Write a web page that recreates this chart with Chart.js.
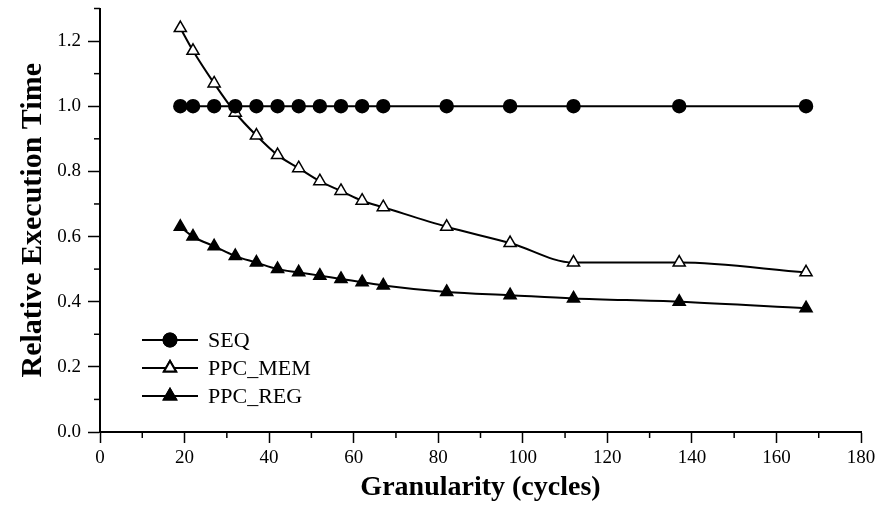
<!DOCTYPE html>
<html>
<head>
<meta charset="utf-8">
<script src="https://cdn.jsdelivr.net/npm/chart.js@4"></script>
<style>
  body { margin: 0; background: #fff; }
</style>
</head>
<body>
<canvas id="chart" width="879" height="509"></canvas>
<script>
const granularity = [19, 22, 27, 32, 37, 42, 47, 52, 57, 62, 67, 82, 97, 112, 137, 167];
const seq    = [1.00, 1.00, 1.00, 1.00, 1.00, 1.00, 1.00, 1.00, 1.00, 1.00, 1.00, 1.00, 1.00, 1.00, 1.00, 1.00];
const ppcMem = [1.24, 1.17, 1.07, 0.98, 0.91, 0.85, 0.81, 0.77, 0.74, 0.71, 0.69, 0.63, 0.58, 0.52, 0.52, 0.49];
const ppcReg = [0.63, 0.60, 0.57, 0.54, 0.52, 0.50, 0.49, 0.48, 0.47, 0.46, 0.45, 0.43, 0.42, 0.41, 0.40, 0.38];

const xTicks = [0, 20, 40, 60, 80, 100, 120, 140, 160, 180];
const yTicks = [0.0, 0.2, 0.4, 0.6, 0.8, 1.0, 1.2];

const serif = "'Liberation Serif', 'Times New Roman', serif";

const toPoints = vals => vals.map((v, i) => ({ x: granularity[i], y: v }));

const series = [
    { label: 'SEQ', data: seq, style: 'circle', fill: '#000', radius: 6.5 },
    { label: 'PPC_MEM', data: ppcMem, style: 'triangle', fill: '#fff', radius: 7 },
    { label: 'PPC_REG', data: ppcReg, style: 'triangle', fill: '#000', radius: 7 }
];

// small ticks between the labelled ones + legend drawn inside the plot
const extras = {
    id: 'extras',
    afterDraw(chart) {
        const c = chart.ctx;
        const xs = chart.scales.x, ys = chart.scales.y;
        c.save();
        c.strokeStyle = '#000';
        c.lineWidth = 1.5;
        for (let i = 0; i < xTicks.length - 1; i++) {
            const px = xs.getPixelForValue((xTicks[i] + xTicks[i + 1]) / 2);
            c.beginPath(); c.moveTo(px, ys.bottom); c.lineTo(px, ys.bottom + 6); c.stroke();
        }
        const yMinor = yTicks.map(v => v + 0.1);
        yMinor.forEach(v => {
            const py = ys.getPixelForValue(v);
            c.beginPath(); c.moveTo(xs.left - 6, py); c.lineTo(xs.left, py); c.stroke();
        });

        // legend
        c.font = '22px ' + serif;
        c.textBaseline = 'middle';
        c.fillStyle = '#000';
        series.forEach((s, i) => {
            const y = 340 + i * 28;
            c.lineWidth = 2;
            c.beginPath(); c.moveTo(142, y); c.lineTo(198, y); c.stroke();
            Chart.helpers.drawPoint(c, {
                pointStyle: s.style, radius: s.radius, rotation: 0, borderWidth: 1.5
            }, 170, y);
            c.fillStyle = s.fill;
            c.fill();
            c.stroke();
            c.fillStyle = '#000';
            c.fillText(s.label, 208, y + 1);
        });
        c.restore();
    }
};

const chart = new Chart(document.getElementById('chart').getContext('2d'), {
    type: 'line',
    data: {
        datasets: series.map(s => ({
            label: s.label,
            data: toPoints(s.data),
            borderColor: '#000',
            borderWidth: 2,
            backgroundColor: s.fill,
            pointStyle: s.style,
            pointRadius: s.radius,
            pointBorderWidth: 1.5,
            pointBorderColor: '#000',
            pointBackgroundColor: s.fill,
            cubicInterpolationMode: 'monotone',
            fill: false,
            clip: false
        }))
    },
    options: {
        responsive: false,
        animation: false,
        layout: { padding: { top: 6, right: 18, left: 0, bottom: 0 } },
        plugins: {
            legend: { display: false },
            tooltip: { enabled: false }
        },
        scales: {
            x: {
                type: 'linear',
                min: 0,
                max: 180,
                afterFit: s => { s.height = 77; s.paddingLeft = 0; s.paddingRight = 0; },
                afterBuildTicks: s => { s.ticks = xTicks.map(v => ({ value: v })); },
                grid: { drawOnChartArea: false, tickLength: 11, tickWidth: 1.5, tickColor: '#000' },
                border: { color: '#000', width: 2 },
                ticks: { color: '#000', padding: 4, font: { family: serif, size: 19 } },
                title: {
                    display: true,
                    text: 'Granularity (cycles)',
                    color: '#000',
                    padding: { top: 0, bottom: 4 },
                    font: { family: serif, size: 28, weight: 'bold' }
                }
            },
            y: {
                min: 0,
                max: 1.3,
                afterFit: s => { s.width = 100; s.paddingTop = 0; s.paddingBottom = 0; },
                afterBuildTicks: s => { s.ticks = yTicks.map(v => ({ value: v })); },
                grid: { drawOnChartArea: false, tickLength: 12, tickWidth: 1.5, tickColor: '#000' },
                border: { color: '#000', width: 2 },
                ticks: {
                    color: '#000',
                    padding: 7,
                    font: { family: serif, size: 19 },
                    callback: v => v.toFixed(1)
                },
                title: {
                    display: true,
                    text: 'Relative Execution Time',
                    color: '#000',
                    padding: { top: 15, bottom: 0 },
                    font: { family: serif, size: 30, weight: 'bold' }
                }
            }
        }
    },
    plugins: [extras]
});
</script>
</body>
</html>
